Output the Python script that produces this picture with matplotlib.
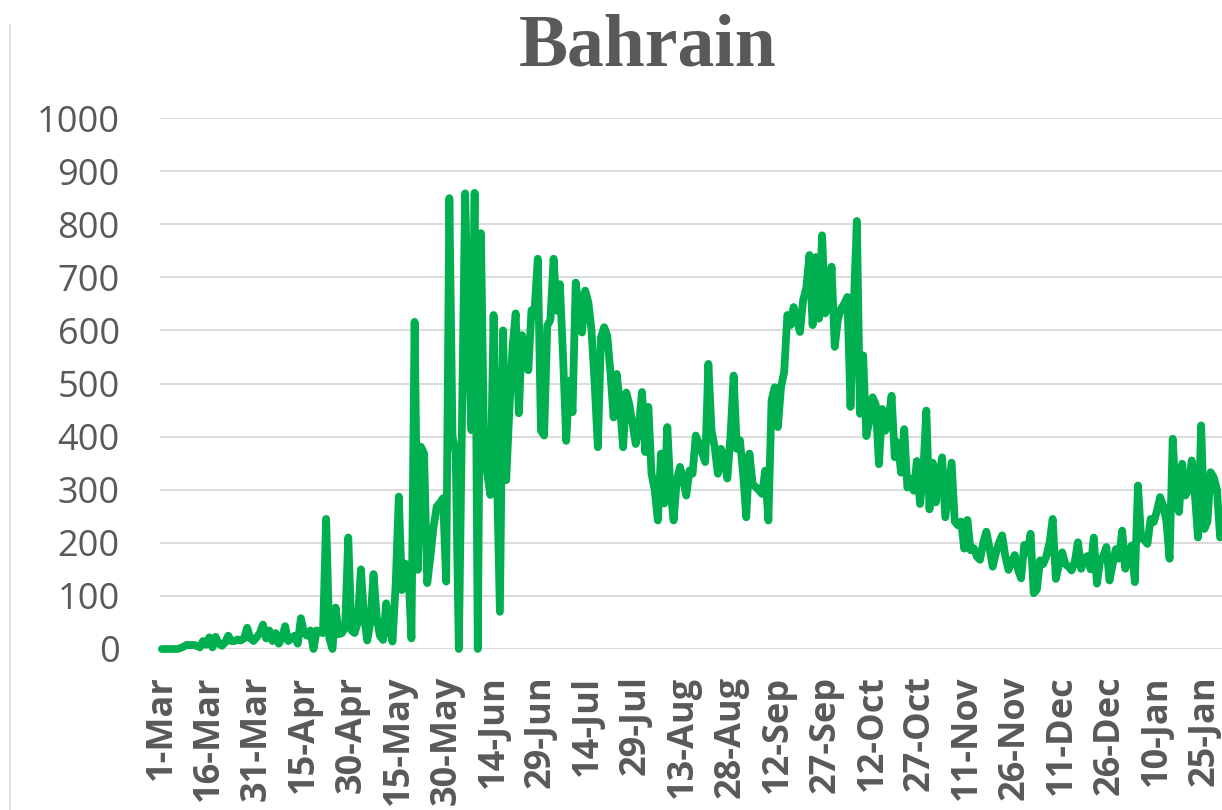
import numpy as np
import pandas as pd
import matplotlib
matplotlib.use("Agg")
import matplotlib.pyplot as plt
from matplotlib.lines import Line2D

# ---------------- data (daily values, starting 1-Mar) ----------------
start_date = "2020-03-01"
values_mar = [0, 0, 0, 0, 0, 0, 2, 5, 8, 7, 8, 6, 3, 15, 8, 22, 3, 23, 10, 6,
              12, 25, 15, 15, 18, 16, 20, 40, 20, 15, 22]
values_apr = [30, 46, 20, 35, 15, 30, 10, 20, 43, 15, 20, 25, 10, 58, 30, 25, 35, 0, 35,
              32, 30, 245, 20, 0, 78, 28, 30, 40, 210, 35]
values_may = [30, 50, 150, 60, 16, 50, 141, 60, 25, 17, 86, 40, 14, 120, 287, 111, 161, 150, 20,
              616, 149, 381, 368, 124, 174, 230, 268, 275, 284, 127, 849]
values_jun = [400, 370, 0, 430, 858, 600, 412, 859, 0, 783, 375, 330, 290, 629, 350, 70, 600, 318,
              450, 569, 632, 444, 591, 560, 525, 638, 640, 735, 411, 402]
values_jul = [609, 620, 735, 637, 687, 550, 392, 505, 446, 690, 640, 596, 675, 653, 600, 500, 380,
              587, 606, 590, 520, 436, 518, 460, 380, 483, 460, 424, 386, 420, 484]
values_aug = [371, 456, 330, 300, 242, 368, 274, 418, 300, 242, 317, 343, 320, 289, 336, 330, 402,
              387, 370, 352, 537, 412, 380, 330, 377, 360, 321, 400, 515, 377, 393]
values_sep = [330, 248, 368, 311, 305, 299, 292, 336, 242, 468, 493, 418, 493, 522, 629, 610, 644,
              620, 597, 657, 680, 742, 610, 738, 622, 779, 632, 650, 720, 569]
values_oct = [620, 641, 650, 663, 456, 640, 806, 443, 553, 401, 430, 474, 460, 348, 452, 411, 430,
              477, 361, 389, 332, 414, 304, 320, 298, 354, 273, 330, 449, 263, 351]
values_nov = [276, 320, 361, 248, 300, 351, 240, 233, 240, 189, 243, 186, 190, 174, 168, 200, 221,
              190, 155, 180, 200, 214, 175, 149, 165, 177, 150, 133, 196, 180]
values_dec = [217, 105, 112, 167, 160, 175, 200, 245, 132, 160, 182, 160, 155, 148, 165, 201, 151,
              170, 175, 150, 210, 123, 166, 175, 192, 129, 160, 188, 170, 223, 151]
values_jan = [180, 195, 126, 308, 210, 205, 198, 245, 239, 260, 286, 270, 240, 170, 396, 280, 258,
              349, 289, 300, 355, 292, 210, 421, 226, 240, 333, 323, 300, 210]

values = (values_mar + values_apr + values_may + values_jun + values_jul + values_aug +
          values_sep + values_oct + values_nov + values_dec + values_jan)
dates = pd.date_range(start_date, periods=len(values), freq="D")
tick_dates = dates[::15]
tick_labels = [f"{d.day}-{d.strftime('%b')}" for d in tick_dates]
y_ticks = list(range(0, 1001, 100))
title = "Bahrain"

# ---------------- style ----------------
W, H = 1222, 810
fig = plt.figure(figsize=(W / 100, H / 100), dpi=100)
fig.patch.set_facecolor("white")

left_px, right_px = 160, 1222
bottom_px, top_px = 649, 118
ax = fig.add_axes([left_px / W, 1 - bottom_px / H,
                   (right_px - left_px) / W, (bottom_px - top_px) / H])

txt_color = "#595959"
grid_color = "#D9D9D9"
line_color = "#00B050"

ax.plot(dates, values, color=line_color, lw=5.6, solid_joinstyle="round",
        solid_capstyle="round", clip_on=False, zorder=3)

day_w = pd.Timedelta(days=1)
ax.set_xlim(dates[0] - 0.6 * day_w, dates[-1] + 0.6 * day_w)
ax.set_ylim(0, 1000)

ax.set_yticks(y_ticks)
ax.set_yticklabels([str(v) for v in y_ticks], fontsize=26, color=txt_color,
                   fontfamily="Open Sans")
ax.set_xticks(tick_dates)
ax.set_xticklabels(tick_labels, rotation=90, fontsize=26, fontweight="bold",
                   color=txt_color, fontfamily="Open Sans", ha="center", va="top")

ax.tick_params(axis="y", length=0, pad=29)
ax.tick_params(axis="x", length=0, pad=19)

for s in ax.spines.values():
    s.set_visible(False)
ax.grid(axis="y", color=grid_color, lw=1.3, zorder=0)
ax.grid(axis="x", visible=False)
ax.set_axisbelow(True)

# title
fig.text(648 / W, 1 - 65 / H, title, ha="center", va="baseline",
         fontsize=53, fontweight="bold", color=txt_color,
         fontfamily="Liberation Serif")

# thin left border of the chart area
fig.add_artist(Line2D([10 / W, 10 / W], [0, 1 - 25 / H], transform=fig.transFigure,
                      color=grid_color, lw=1.2))

fig.savefig("out.png", dpi=100, facecolor="white")
